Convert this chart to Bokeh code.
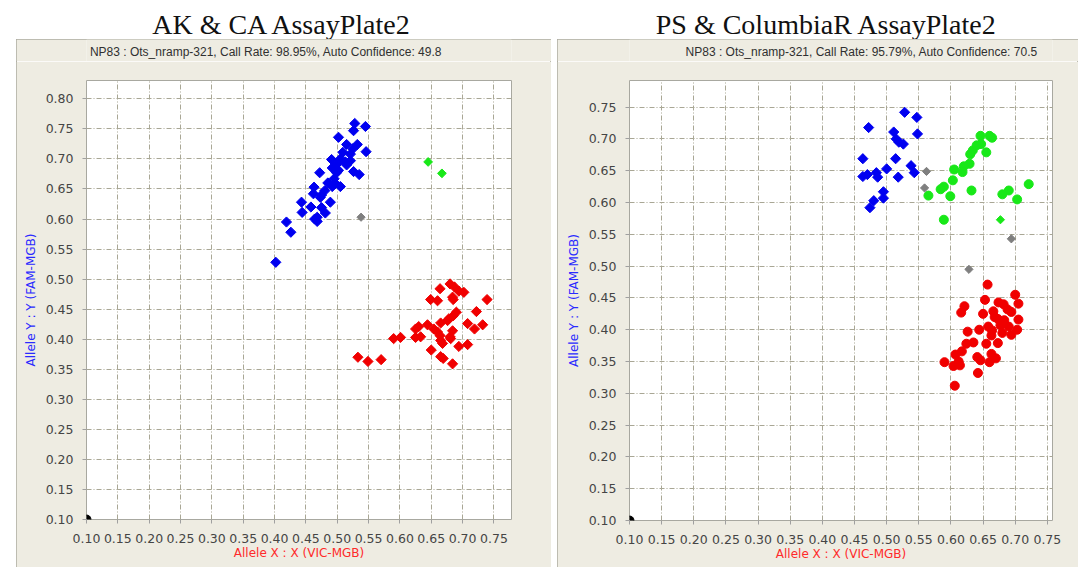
import numpy as np
from bokeh.plotting import figure
from bokeh.models import Range1d, FixedTicker, PrintfTickFormatter, Label, Spacer
from bokeh.layouts import row, column
from bokeh.embed import file_html
from bokeh.resources import INLINE

# ---------------- texts ----------------
TITLE_LEFT = "AK & CA AssayPlate2"
TITLE_RIGHT = "PS & ColumbiaR AssayPlate2"
SUB_LEFT = "NP83 : Ots_nramp-321, Call Rate: 98.95%, Auto Confidence: 49.8"
SUB_RIGHT = "NP83 : Ots_nramp-321, Call Rate: 95.79%, Auto Confidence: 70.5"
X_LABEL = "Allele X : X (VIC-MGB)"
Y_LABEL = "Allele Y : Y (FAM-MGB)"

# ---------------- ticks ----------------
X_TICKS = [0.10, 0.15, 0.20, 0.25, 0.30, 0.35, 0.40, 0.45, 0.50, 0.55, 0.60, 0.65, 0.70, 0.75]
Y_TICKS_LEFT = [0.10, 0.15, 0.20, 0.25, 0.30, 0.35, 0.40, 0.45, 0.50, 0.55, 0.60, 0.65, 0.70, 0.75, 0.80]
Y_TICKS_RIGHT = [0.10, 0.15, 0.20, 0.25, 0.30, 0.35, 0.40, 0.45, 0.50, 0.55, 0.60, 0.65, 0.70, 0.75]

# ---------------- left panel data (AK & CA) ----------------
L_BLUE_X = [0.528, 0.545, 0.526, 0.502, 0.515, 0.532, 0.525, 0.546, 0.509, 0.521,
            0.491, 0.505, 0.513, 0.521, 0.497, 0.492, 0.502, 0.499, 0.472, 0.526,
            0.535, 0.495, 0.497, 0.505, 0.492, 0.463, 0.480, 0.462, 0.473, 0.489,
            0.443, 0.475, 0.444, 0.481, 0.468, 0.464, 0.468, 0.419, 0.426, 0.402,
            0.505, 0.515, 0.485, 0.475, 0.458]
L_BLUE_Y = [0.759, 0.754, 0.747, 0.736, 0.724, 0.724, 0.717, 0.712, 0.711, 0.708,
            0.699, 0.697, 0.695, 0.697, 0.689, 0.685, 0.681, 0.677, 0.677, 0.679,
            0.674, 0.667, 0.659, 0.654, 0.654, 0.653, 0.647, 0.642, 0.636, 0.628,
            0.628, 0.619, 0.611, 0.610, 0.603, 0.600, 0.596, 0.595, 0.578, 0.528,
            0.700, 0.690, 0.660, 0.640, 0.620]
L_RED_X = [0.680, 0.687, 0.664, 0.694, 0.702, 0.684, 0.685, 0.649, 0.660, 0.739,
           0.690, 0.685, 0.678, 0.722, 0.676, 0.708, 0.732, 0.644, 0.665, 0.630,
           0.625, 0.654, 0.660, 0.684, 0.719, 0.664, 0.680, 0.601, 0.590, 0.625,
           0.633, 0.665, 0.681, 0.668, 0.708, 0.694, 0.650, 0.533, 0.570, 0.549,
           0.665, 0.669, 0.684]
L_RED_Y = [0.492, 0.487, 0.484, 0.480, 0.478, 0.470, 0.466, 0.466, 0.464, 0.466,
           0.445, 0.439, 0.434, 0.446, 0.431, 0.426, 0.424, 0.424, 0.427, 0.421,
           0.417, 0.417, 0.412, 0.414, 0.417, 0.406, 0.404, 0.403, 0.401, 0.403,
           0.404, 0.398, 0.401, 0.393, 0.391, 0.388, 0.382, 0.370, 0.366, 0.363,
           0.371, 0.368, 0.359]
L_GREEN_X = [0.645, 0.667]
L_GREEN_Y = [0.695, 0.676]
L_GRAY_X = [0.538]
L_GRAY_Y = [0.603]
NTC_X = [0.10]
NTC_Y = [0.10]

# ---------------- right panel data (PS & ColumbiaR) ----------------
R_BLUE_X = [0.528, 0.547, 0.472, 0.548, 0.511, 0.515, 0.519, 0.526, 0.463, 0.514,
            0.500, 0.538, 0.543, 0.484, 0.463, 0.470, 0.486, 0.518, 0.495, 0.495,
            0.480, 0.474]
R_BLUE_Y = [0.742, 0.734, 0.718, 0.708, 0.711, 0.700, 0.695, 0.692, 0.669, 0.669,
            0.653, 0.658, 0.647, 0.647, 0.641, 0.644, 0.640, 0.640, 0.617, 0.607,
            0.603, 0.592]
R_GREEN_X = [0.646, 0.660, 0.664, 0.647, 0.655, 0.634, 0.630, 0.629, 0.620, 0.605,
             0.603, 0.589, 0.584, 0.632, 0.565, 0.599, 0.721, 0.690, 0.680, 0.703,
             0.589, 0.640, 0.618]
R_GREEN_Y = [0.705, 0.705, 0.702, 0.692, 0.679, 0.682, 0.676, 0.661, 0.657, 0.652,
             0.635, 0.625, 0.621, 0.619, 0.611, 0.610, 0.629, 0.619, 0.613, 0.605,
             0.573, 0.690, 0.648]
R_GREEN_D_X = [0.677]
R_GREEN_D_Y = [0.573]
R_GRAY_X = [0.562, 0.559, 0.694, 0.628]
R_GRAY_Y = [0.649, 0.623, 0.543, 0.495]
R_RED_X = [0.657, 0.700, 0.705, 0.653, 0.674, 0.682, 0.621, 0.616, 0.650, 0.666,
           0.694, 0.673, 0.683, 0.705, 0.677, 0.664, 0.644, 0.626, 0.703, 0.694,
           0.663, 0.655, 0.673, 0.624, 0.617, 0.607, 0.663, 0.641, 0.646, 0.660,
           0.590, 0.604, 0.614, 0.642, 0.606, 0.668, 0.688, 0.658, 0.690, 0.635,
           0.670, 0.612, 0.680]
R_RED_Y = [0.471, 0.455, 0.441, 0.447, 0.443, 0.440, 0.437, 0.427, 0.425, 0.429,
           0.428, 0.417, 0.415, 0.416, 0.407, 0.399, 0.400, 0.397, 0.400, 0.392,
           0.391, 0.378, 0.379, 0.378, 0.366, 0.361, 0.362, 0.357, 0.352, 0.349,
           0.349, 0.343, 0.344, 0.332, 0.312, 0.420, 0.432, 0.405, 0.405, 0.380,
           0.355, 0.350, 0.395]

# ---------------- styles ----------------
BEIGE = "#EEECE2"
BLUE = "#0000F0"
RED = "#F00000"
GREEN = "#18E818"
GRAY = "#7F7F7F"
DIAMOND = np.pi / 4
EDGE = {"outline": "1px solid #ADACA0", "outline-offset": "-1px"}


def strip(width, height, fill):
    f = figure(width=width, height=height, title=None,
               x_range=Range1d(0, width), y_range=Range1d(0, height),
               x_axis_location=None, y_axis_location=None, min_border=0,
               output_backend="svg", toolbar_location=None,
               background_fill_color=fill, border_fill_color=fill,
               outline_line_color=None)
    f.grid.visible = False
    return f


def make_sub(width, text, cx):
    f = strip(width, 22, BEIGE)
    f.add_layout(Label(x=cx, y=10, text=text, text_align="center",
                       text_baseline="middle", text_font="Liberation Sans",
                       text_font_size="12px", text_color="#303030"))
    return f


def make_panel(xr, yr, yticks, fw, fh, bl, br, bt, bb):
    p = figure(x_range=Range1d(*xr), y_range=Range1d(*yr), title=None,
               frame_width=fw, frame_height=fh,
               min_border_left=bl, min_border_right=br,
               min_border_top=bt, min_border_bottom=bb,
               output_backend="svg", toolbar_location=None,
               background_fill_color="white", border_fill_color=BEIGE,
               outline_line_color="#A8A8A0", outline_line_width=1)
    for ax, ticks in ((p.xaxis, X_TICKS), (p.yaxis, yticks)):
        ax.ticker = FixedTicker(ticks=ticks)
        ax.formatter = PrintfTickFormatter(format="%.2f")
        ax.axis_line_color = None
        ax.major_tick_line_color = "#A0A0A0"
        ax.major_tick_out = 4
        ax.major_tick_in = 0
        ax.minor_tick_line_color = None
        ax.major_label_text_font = "DejaVu Sans"
        ax.major_label_text_font_size = "12.5px"
        ax.major_label_text_color = "#454545"
        ax.axis_label_text_font = "DejaVu Sans"
        ax.axis_label_text_font_size = "12px"
        ax.axis_label_text_font_style = "normal"
    p.xaxis.axis_label = X_LABEL
    p.xaxis.axis_label_text_color = "#FF2A2A"
    p.xaxis.major_label_standoff = 10
    p.xaxis.axis_label_standoff = 0
    p.yaxis.axis_label = Y_LABEL
    p.yaxis.axis_label_text_color = "#2A2AFF"
    p.yaxis.major_label_standoff = 9
    p.yaxis.axis_label_standoff = 5
    p.grid.grid_line_color = "#A9A795"
    p.grid.grid_line_dash = "5 2 1 2"
    p.grid.grid_line_width = 1
    return p


# ---------------- title strip ----------------
title_fig = strip(1078, 39, "white")
for tx, txt in ((282, TITLE_LEFT), (826, TITLE_RIGHT)):
    title_fig.add_layout(Label(x=tx, y=15, text=txt, text_align="center",
                               text_baseline="middle", text_font="Liberation Serif",
                               text_font_size="28px", text_color="#111111"))

# ---------------- left panel ----------------
left = make_panel((0.10, 0.778), (0.10, 0.8305), Y_TICKS_LEFT, 425, 439, 70, 40, 19, 48)
left.scatter(L_BLUE_X, L_BLUE_Y, marker="square", angle=DIAMOND, size=7.2, color=BLUE)
left.scatter(L_RED_X, L_RED_Y, marker="square", angle=DIAMOND, size=7.2, color=RED)
left.scatter(L_GREEN_X, L_GREEN_Y, marker="square", angle=DIAMOND, size=6.2, color=GREEN)
left.scatter(L_GRAY_X, L_GRAY_Y, marker="square", angle=DIAMOND, size=5.8, color=GRAY)
left.scatter(NTC_X, NTC_Y, marker="circle", size=9, color="black")
left_col = column(make_sub(535, SUB_LEFT, 226), left)
left_col.styles = EDGE

# ---------------- right panel ----------------
right = make_panel((0.10, 0.758), (0.10, 0.792), Y_TICKS_RIGHT, 423, 440, 72, 26, 19, 47)
right.scatter(R_BLUE_X, R_BLUE_Y, marker="square", angle=DIAMOND, size=7.2, color=BLUE)
right.scatter(R_GREEN_X, R_GREEN_Y, marker="circle", size=9, color=GREEN)
right.scatter(R_GREEN_D_X, R_GREEN_D_Y, marker="square", angle=DIAMOND, size=5.8, color=GREEN)
right.scatter(R_GRAY_X, R_GRAY_Y, marker="square", angle=DIAMOND, size=5.8, color=GRAY)
right.scatter(R_RED_X, R_RED_Y, marker="circle", size=9, color=RED)
right.scatter(NTC_X, NTC_Y, marker="circle", size=9, color="black")
right_col = column(make_sub(521, SUB_RIGHT, 286), right)
right_col.styles = EDGE

layout = column(title_fig,
                row(Spacer(width=16, height=528), left_col, Spacer(width=6, height=528), right_col))

open("out.html", "w").write(file_html(layout, INLINE))
